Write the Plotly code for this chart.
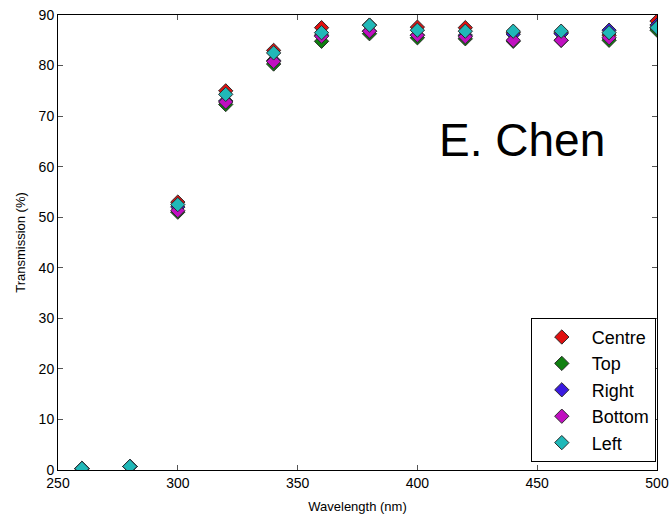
import plotly.graph_objects as go

wavelength = [260, 280, 300, 320, 340, 360, 380, 400, 420, 440, 460, 480, 500]

centre = [0.3, 0.7, 53.0, 75.0, 83.0, 87.5, 88.0, 87.6, 87.5, 86.5, 86.5, 86.0, 88.8]
top = [0.3, 0.7, 51.0, 72.3, 80.3, 84.8, 86.3, 85.5, 85.3, 84.8, 85.0, 85.0, 87.0]
right = [0.3, 0.7, 52.0, 73.0, 81.0, 86.0, 86.8, 86.0, 86.0, 86.2, 86.3, 87.0, 88.0]
bottom = [0.3, 0.7, 51.3, 72.8, 80.8, 85.8, 86.8, 86.0, 85.7, 85.0, 85.0, 85.5, 87.5]
left = [0.3, 0.7, 52.5, 74.3, 82.5, 86.5, 88.0, 87.0, 86.8, 86.8, 86.8, 86.5, 87.5]

series = [
    ("Centre", centre, "#e01010"),
    ("Top", top, "#108010"),
    ("Right", right, "#3a1ae0"),
    ("Bottom", bottom, "#c010c0"),
    ("Left", left, "#20b8b8"),
]

FONT = "Liberation Sans, Arial"

fig = go.Figure()
for name, vals, color in series:
    fig.add_trace(go.Scatter(
        x=wavelength, y=vals, name=name, mode="markers",
        marker=dict(symbol="diamond", size=11, color=color,
                    line=dict(color="#2a2a2a", width=1)),
        error_y=dict(type="constant", value=0.4, color=color, thickness=1, width=3),
        cliponaxis=True,
    ))

fig.add_annotation(
    x=0.775, y=0.725, xref="paper", yref="paper", text="E. Chen",
    xanchor="center", yanchor="middle",
    showarrow=False, font=dict(family=FONT, size=46, color="black"),
)

axis_common = dict(
    showgrid=False, zeroline=False, showline=True, linecolor="black", linewidth=1,
    mirror="ticks", ticks="inside", ticklen=5, tickcolor="#555", automargin=False,
    tickfont=dict(family=FONT, size=14, color="black"),
)

fig.update_xaxes(range=[250, 500], tick0=250, dtick=50,
                 title=dict(text="Wavelength (nm)", standoff=12,
                            font=dict(family=FONT, size=13, color="black")),
                 **axis_common)
fig.update_yaxes(range=[0, 90], tick0=0, dtick=10,
                 title=dict(text="Transmission (%)", standoff=10,
                            font=dict(family=FONT, size=13, color="black")),
                 **axis_common)

fig.update_layout(
    width=669, height=515,
    margin=dict(l=58, r=12, t=15, b=45),
    plot_bgcolor="white", paper_bgcolor="white",
    legend=dict(x=0.998, y=0.018, xanchor="right", yanchor="bottom",
                bordercolor="black", borderwidth=1, bgcolor="white",
                font=dict(family=FONT, size=18, color="black"),
                itemwidth=50),
)

fig.write_html("out.html")
